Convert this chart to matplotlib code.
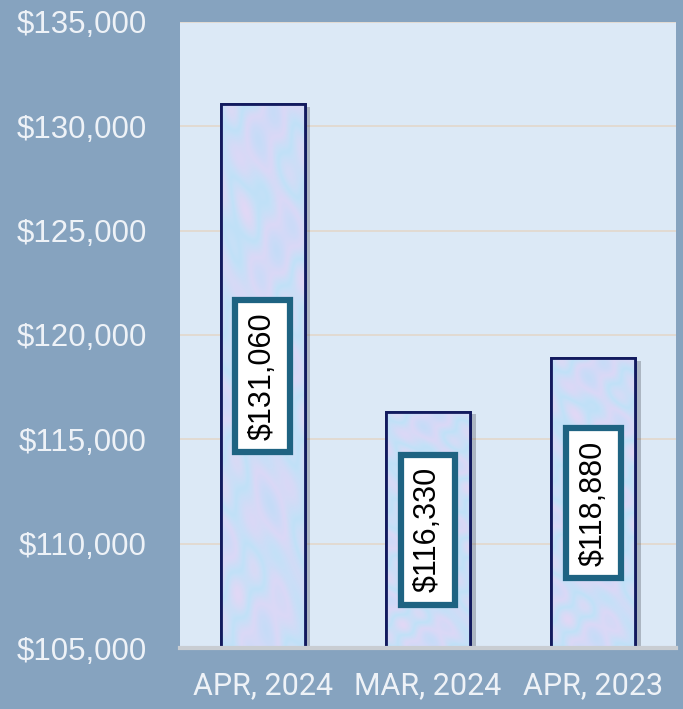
import numpy as np
import matplotlib.pyplot as plt
import matplotlib.patheffects as pe
from matplotlib.colors import LinearSegmentedColormap

months = ["APR, 2024", "MAR, 2024", "APR, 2023"]
prices = [131060, 116330, 118880]
y_ticks = [105000, 110000, 115000, 120000, 125000, 130000, 135000]

BG = "#86A3BF"
PLOT_BG = "#DCE9F6"
EDGE = "#121A5E"
LABEL_EDGE = "#1E6382"
TICK_COLOR = "#EEF2F7"

fig = plt.figure(figsize=(6.83, 7.09), dpi=100, facecolor=BG)
ax = fig.add_axes([180 / 683, 61 / 709, 496 / 683, 626 / 709])
ax.set_facecolor(PLOT_BG)

x = np.arange(len(months))
bars = ax.bar(x, [p - y_ticks[0] for p in prices], bottom=y_ticks[0], width=0.51,
              facecolor="#D6E0F7", edgecolor=EDGE, linewidth=2, zorder=3,
              path_effects=[pe.SimplePatchShadow(offset=(4, -2), alpha=0.3), pe.Normal()])

# pastel mottled fill, clipped to each bar
tex = LinearSegmentedColormap.from_list("pastel", ["#C4DCF9", "#DCD8F6", "#BFE2F8", "#E2D8F5"])
gx, gy = np.meshgrid(np.linspace(0, 6, 60), np.linspace(0, 30, 300))
pattern = np.sin(gx * 1.3 + np.sin(gy * 0.7)) + np.cos(gy * 0.9 + gx * 0.6) + 0.5 * np.sin(gx * 3.1 - gy * 1.7)
for b in bars:
    x0, y0, w, h = b.get_x(), b.get_y(), b.get_width(), b.get_height()
    im = ax.imshow(pattern, cmap=tex, extent=[x0, x0 + w, y0, y0 + h], aspect="auto",
                   interpolation="bicubic", zorder=3.5, alpha=0.92)
    im.set_clip_path(b)
    ax.add_patch(plt.Rectangle((x0, y0), w, h, fill=False, edgecolor=EDGE, linewidth=2, zorder=4))

for xi, p in zip(x, prices):
    ax.text(xi, (y_ticks[0] + p) / 2, f"${p:,}", rotation=90, ha="center", va="center",
            fontsize=22, family=["Liberation Sans", "DejaVu Sans"], color="black", zorder=6,
            bbox=dict(boxstyle="square,pad=0.4", facecolor="white", edgecolor=LABEL_EDGE, linewidth=4.5))

ax.set_xlim(-0.5, 2.5)
ax.set_ylim(y_ticks[0], y_ticks[-1])
ax.set_yticks(y_ticks)
ax.set_yticklabels([f"${v:,}" for v in y_ticks])
ax.set_xticks(x)
ax.set_xticklabels(months)
ax.grid(axis="y", color="#E3D8CB", linewidth=1.2, zorder=1)
ax.tick_params(length=0)
ax.tick_params(axis="y", pad=24, labelsize=22.5, labelcolor=TICK_COLOR)
ax.tick_params(axis="x", pad=17, labelsize=22, labelcolor=TICK_COLOR)
for lab in ax.get_yticklabels():
    lab.set_family(["Liberation Sans", "DejaVu Sans"])
for lab in ax.get_xticklabels():
    lab.set_family(["Roboto", "DejaVu Sans"])

for s in ["top", "left", "right"]:
    ax.spines[s].set_visible(False)
ax.spines["bottom"].set_color("#C9CDD2")
ax.spines["bottom"].set_linewidth(3)
ax.spines["bottom"].set_zorder(5)

fig.savefig("out.png", dpi=100, facecolor=BG)
